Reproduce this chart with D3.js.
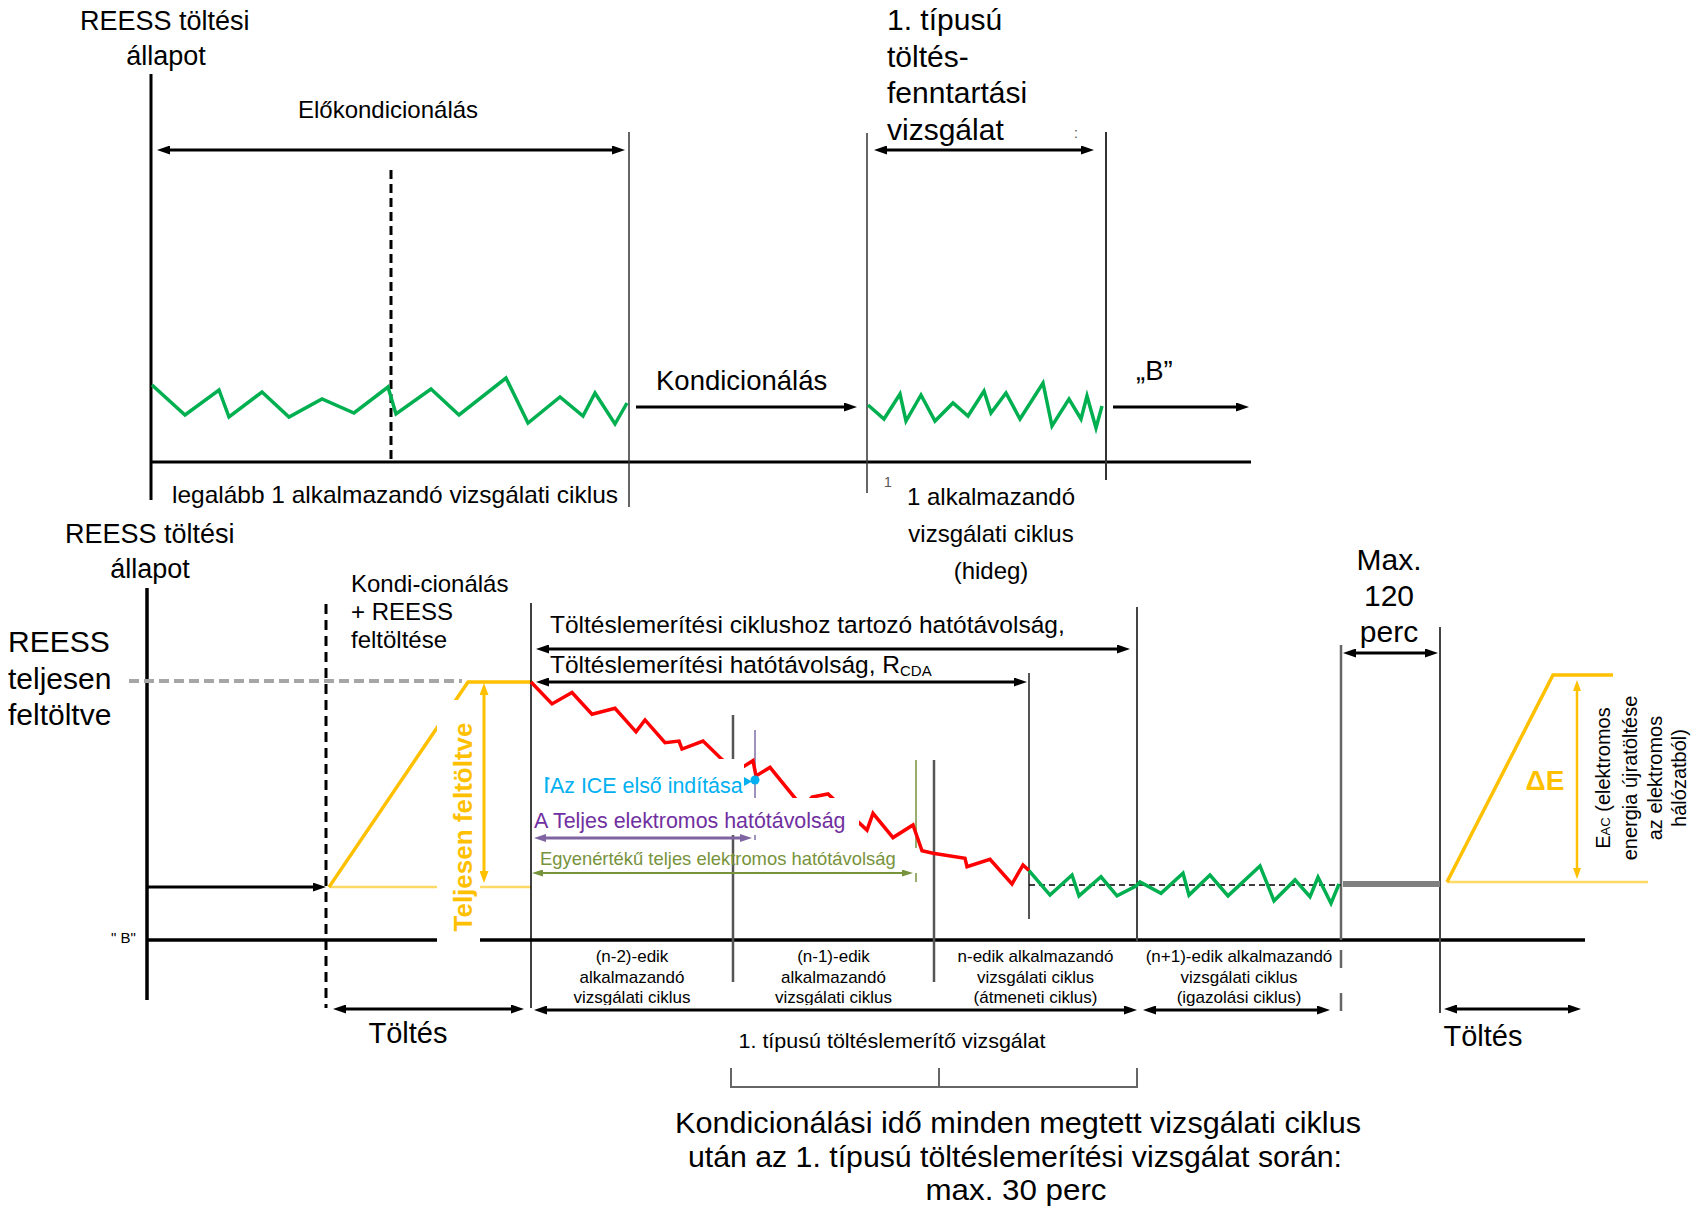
<!DOCTYPE html>
<html><head><meta charset="utf-8">
<script src="https://cdn.jsdelivr.net/npm/d3@7"></script>
<style>
html,body{margin:0;padding:0;background:#fff;}
svg{display:block;}
text{font-family:"Liberation Sans",Arial,Helvetica,sans-serif;fill:#000;}
</style>
</head><body>
<svg id="c" width="1700" height="1214"></svg>
<script>
// ---------------- DATA ----------------
// Top panel: time units (0..110), SOC units (0..100)
const topGreenPre = [[0.2,77],[3.5,47],[6.9,72],[7.9,45],[11.2,70],[13.9,45],[17.2,63],[20.4,49],[23.8,75],[24.6,48],[28.1,73],[30.9,47],[35.6,84],[37.8,39],[41.0,65],[43.3,46],[44.5,69],[46.5,38],[47.7,59]];
const topGreenType1 = [[71.8,57],[73.4,43],[75.0,68],[75.6,41],[77.1,67],[78.5,41],[80.3,59],[81.8,46],[83.4,71],[84.1,49],[85.6,69],[87.0,43],[89.3,79],[90.2,36],[91.9,63],[93.1,43],[93.7,66],[94.6,34],[95.2,56]];
const topEvents = [24.1, 47.9, 71.7, 95.6]; // mid-precon, end precon, start type1, end type1

// Bottom panel: time units (0..144), SOC % (0 = axis "B", 100 = fully charged)
const chargeLeft = [[18.2,20.5],[32.1,100],[38.5,100]];
const redCD = [[38.4,100],[40.5,91.5],[42.5,95.9],[44.5,87.5],[46.8,89.8],[48.9,80.7],[49.8,85.3],[51.8,76.5],[53.2,77.1],[53.5,74.0],[55.6,77.1],[57.5,70.0],[59.1,65.9],[60.6,69.5],[60.9,63.6],[62.3,66.9],[65.6,51.2],[66.5,55.4],[68.1,56.6],[72.0,42.6],[72.6,49.1],[74.6,39.7],[76.6,44.6],[77.5,34.6],[78.6,33.6],[81.8,31.7],[82.0,28.4],[84.3,31.3],[86.5,21.7],[87.6,29.1],[88.2,26.9]];
const greenCS = [[88.2,26.9],[90.3,17.4],[92.5,25.2],[93.2,17.1],[95.4,24.5],[97.0,17.1],[98.9,20.9],[99.3,22.5],[101.4,18.1],[103.6,25.9],[104.2,17.4],[106.3,25.2],[108.1,17.1],[111.3,28.7],[112.7,15.2],[114.8,23.3],[116.3,16.8],[117.1,24.3],[118.4,14.2],[119.2,21.7]];
const chargeRight = [[130.0,22.5],[140.6,102.7],[146.6,102.7]];
const cycleBounds = [38.4, 58.6, 78.7, 99.0, 119.4]; // cycle boundaries
const chargeStartT = 17.9, rcdaEndT = 88.2, iceT = 60.8, earT = 76.9, chargeEndT = 129.3;
const csLevel = 21.3, soakLevel = 21.7, startLevel = 20.5, rightStartLevel = 22.5, fullLevel = 100;
const cycleLabels = [
  ["(n-2)-edik","alkalmazandó","vizsgálati ciklus"],
  ["(n-1)-edik","alkalmazandó","vizsgálati ciklus"],
  ["n-edik alkalmazandó","vizsgálati ciklus","(átmeneti ciklus)"],
  ["(n+1)-edik alkalmazandó","vizsgálati ciklus","(igazolási ciklus)"]
];
const eacLines = ["energia újratöltése","az elektromos","hálózatból)"];

// ---------------- SCALES ----------------
const xT = d3.scaleLinear().domain([0,110]).range([150,1250]);
const yT = d3.scaleLinear().domain([0,100]).range([462,362]);
const xB = d3.scaleLinear().domain([0,144]).range([147,1587]);
const yB = d3.scaleLinear().domain([0,100]).range([940,682]);

const svg = d3.select("#c");
const defs = svg.append("defs");
const mk = {};
function marker(color,len,wid){
  const id = "m"+color.replace("#","")+"_"+len+"_"+wid;
  if(!mk[id]){
    defs.append("marker").attr("id",id).attr("markerUnits","userSpaceOnUse")
      .attr("markerWidth",len).attr("markerHeight",wid).attr("refX",2).attr("refY",wid/2)
      .attr("orient","auto-start-reverse").attr("viewBox",`0 0 ${len} ${wid}`)
      .append("path").attr("d",`M0,0L${len},${wid/2}L0,${wid}Z`).attr("fill",color);
    mk[id]=1;
  }
  return `url(#${id})`;
}
function arrow(x1,y1,x2,y2,o={}){
  const color=o.color||"#000", len=o.len||13, wid=o.wid||9, w=o.w||3;
  const dx=x2-x1, dy=y2-y1, L=Math.hypot(dx,dy), ux=dx/L, uy=dy/L;
  const s=len-2;
  const ax = o.both? x1+ux*s : x1, ay = o.both? y1+uy*s : y1;
  const l = svg.append("line").attr("x1",ax).attr("y1",ay).attr("x2",x2-ux*s).attr("y2",y2-uy*s)
    .attr("stroke",color).attr("stroke-width",w);
  const m = marker(color,len,wid);
  l.attr("marker-end",m); if(o.both) l.attr("marker-start",m);
}
function line(x1,y1,x2,y2,color,w,dash){
  const l=svg.append("line").attr("x1",x1).attr("y1",y1).attr("x2",x2).attr("y2",y2)
    .attr("stroke",color).attr("stroke-width",w);
  if(dash) l.attr("stroke-dasharray",dash);
  return l;
}
function txt(x,y,s,size,o={}){
  const t=svg.append("text").attr("x",x).attr("y",y).attr("font-size",size)
    .attr("text-anchor",o.anchor||"start").text(s);
  if(o.color) t.style("fill",o.color);
  if(o.bold) t.attr("font-weight","bold");
  if(o.tl) t.attr("textLength",o.tl).attr("lengthAdjust","spacingAndGlyphs");
  return t;
}
const lineT = d3.line().x(d=>xT(d[0])).y(d=>yT(d[1]));
const lineB = d3.line().x(d=>xB(d[0])).y(d=>yB(d[1]));

const GREEN="#00B050", RED="#FF0000", GOLD="#FFC000", LGOLD="#FFD966";

// ================= TOP PANEL =================
line(xT(0)+1,74,xT(0)+1,500,"#000",3);
line(xT(0),462,1251,462,"#000",3);
arrow(157,150,625,150,{both:true});
line(xT(topEvents[1]),132,xT(topEvents[1]),507,"#333",1.5);
line(xT(topEvents[0]),170,xT(topEvents[0]),462,"#000",3,"9,5");
line(xT(topEvents[2]),133,xT(topEvents[2]),493,"#333",1.5);
line(xT(topEvents[3]),132,xT(topEvents[3]),480,"#333",2);
arrow(874,150,1094,150,{both:true});
arrow(636,407,857,407,{});
arrow(1113,407,1249,407,{});
svg.append("path").attr("d",lineT(topGreenPre)).attr("fill","none").attr("stroke",GREEN).attr("stroke-width",3.5).attr("stroke-linejoin","miter");
svg.append("path").attr("d",lineT(topGreenType1)).attr("fill","none").attr("stroke",GREEN).attr("stroke-width",3.5);

txt(80,30,"REESS töltési",27);
txt(166,65,"állapot",27,{anchor:"middle"});
txt(388,118,"Előkondicionálás",24,{anchor:"middle"});
["1. típusú","töltés-","fenntartási","vizsgálat"].forEach((s,i)=>txt(887,30+i*36.7,s,30));
txt(1074,138,":",14,{color:"#555"});
txt(656,390,"Kondicionálás",27.5);
txt(1136,380,"„B”",27.5);
txt(172,503,"legalább 1 alkalmazandó vizsgálati ciklus",24,{tl:446});
txt(884,487,"1",14,{color:"#555"});
txt(991,505,"1 alkalmazandó",24,{anchor:"middle"});
txt(991,542,"vizsgálati ciklus",24,{anchor:"middle"});
txt(991,579,"(hideg)",24,{anchor:"middle"});

// ================= BOTTOM PANEL =================
// axes
line(147,588,147,1000,"#000",3.5);
line(147,yB(0),1585,yB(0),"#000",3.5);
// grey dashed "fully charged"
line(129,yB(fullLevel)-1,462,yB(fullLevel)-1,"#A6A6A6",4,"10,5");
// arrow to charge start
arrow(147,yB(startLevel),xB(chargeStartT),yB(startLevel),{});
line(xB(chargeStartT),604,xB(chargeStartT),1008,"#000",3,"10,6");
// charge ramp left
line(xB(chargeLeft[0][0]),yB(startLevel),xB(cycleBounds[0]),yB(startLevel),LGOLD,2.5);
svg.append("path").attr("d",lineB(chargeLeft)).attr("fill","none").attr("stroke",GOLD).attr("stroke-width",3.5);
arrow(484,683,484,883,{both:true,color:GOLD,w:3,len:12,wid:9});

// vertical markers
line(xB(cycleBounds[0]),603,xB(cycleBounds[0]),1008,"#000",1.5);
line(xB(cycleBounds[1]),715,xB(cycleBounds[1]),982,"#555",2.5);
line(xB(cycleBounds[2]),760,xB(cycleBounds[2]),982,"#555",2.5);
line(xB(rcdaEndT),673,xB(rcdaEndT),919,"#555",2);
line(xB(cycleBounds[3]),607,xB(cycleBounds[3]),942,"#444",2);
line(xB(cycleBounds[4]),645,xB(cycleBounds[4]),940,"#666",2.5);
line(xB(cycleBounds[4]),950,xB(cycleBounds[4]),1012,"#666",2.5,"18,25");
line(xB(chargeEndT),627,xB(chargeEndT),1013,"#444",2);
line(xB(earT),760,xB(earT),848,"#77933C",1.5);
line(xB(earT),873,xB(earT),882,"#77933C",1.5);
line(xB(iceT),730,xB(iceT),840,"#7F6FA6",1.5);

// range arrows
arrow(536,649,1130,649,{both:true});
arrow(536,682,1027,682,{both:true});

// red CD line and green CS line
svg.append("path").attr("d",lineB(redCD)).attr("fill","none").attr("stroke",RED).attr("stroke-width",3.5);
line(xB(rcdaEndT),yB(csLevel),xB(cycleBounds[4]),yB(csLevel),"#000",1.5,"6,4");
svg.append("path").attr("d",lineB(greenCS)).attr("fill","none").attr("stroke",GREEN).attr("stroke-width",3.5);
line(xB(cycleBounds[4])+2,yB(soakLevel),xB(chargeEndT),yB(soakLevel),"#808080",6);

// white label boxes
svg.append("rect").attr("x",541).attr("y",759).attr("width",203).attr("height",40).attr("fill","#fff");
svg.append("rect").attr("x",534).attr("y",798).attr("width",325).attr("height",37).attr("fill","#fff");

// ICE / AER annotations
svg.append("path").attr("d","M546.5,777V793M546.5,778.5H549.5").attr("fill","none").attr("stroke","#00B0F0").attr("stroke-width",2.2);
txt(550,793,"Az ICE első indítása",21.4,{color:"#00B0F0"});
svg.append("path").attr("d","M744,777L752,781.5L744,786Z").attr("fill","#00B0F0");
svg.append("circle").attr("cx",xB(iceT)).attr("cy",780).attr("r",4.5).attr("fill","#00B0F0");
txt(534,828,"A",21.5,{color:"#7030A0"});
txt(553,828,"Teljes elektromos hatótávolság",21.4,{color:"#7030A0"});
arrow(534,838,752,838,{both:true,color:"#8064A2",w:3,len:12,wid:8});
txt(540,865,"Egyenértékű teljes elektromos hatótávolság",18.4,{color:"#77933C"});
arrow(532,873,913,873,{both:true,color:"#77933C",w:2,len:11,wid:7});

// right charge
line(xB(chargeRight[0][0]),yB(rightStartLevel),1648,yB(rightStartLevel),LGOLD,2.5);
svg.append("path").attr("d",lineB(chargeRight)).attr("fill","none").attr("stroke",GOLD).attr("stroke-width",3.5);
arrow(1577,680,1577,879,{both:true,color:GOLD,w:2.5,len:11,wid:8});
arrow(1343,653,1438,653,{both:true});

// white box behind rotated label
svg.append("rect").attr("x",437).attr("y",700).attr("width",43).attr("height",252).attr("fill","#fff");
svg.append("text").attr("transform","translate(472,827) rotate(-90)").attr("text-anchor","middle")
  .attr("font-size",26).attr("font-weight","bold").style("fill",GOLD).text("Teljesen feltöltve");

// texts bottom panel
txt(65,543,"REESS töltési",27);
txt(150,578,"állapot",27,{anchor:"middle"});
["REESS","teljesen","feltöltve"].forEach((s,i)=>txt(8,652+i*36.5,s,30));
["Kondi-cionálás","+ REESS","feltöltése"].forEach((s,i)=>txt(351,592+i*28,s,24));
txt(111,943,"\" B\"",15);
txt(550,633,"Töltéslemerítési ciklushoz tartozó hatótávolság,",24.5);
const rc = txt(550,673,"Töltéslemerítési hatótávolság, R",24.5);
rc.append("tspan").attr("font-size",15).attr("dy",3).text("CDA");

cycleLabels.forEach((lab,i)=>{
  const cx = (xB(cycleBounds[i])+xB(cycleBounds[i+1]))/2;
  lab.forEach((s,j)=>txt(cx,962+j*20.5,s,17,{anchor:"middle"}));
});
svg.append("rect").attr("x",536).attr("y",1005).attr("width",395).attr("height",4).attr("fill","#fff");

["Max.","120","perc"].forEach((s,i)=>txt(1389,570+i*36,s,30,{anchor:"middle"}));
txt(1545,790,"ΔE",28,{anchor:"middle",bold:true,color:GOLD});
const e1 = svg.append("text").attr("transform","translate(1610,778) rotate(-90)").attr("text-anchor","middle").attr("font-size",20);
e1.append("tspan").text("E");
e1.append("tspan").attr("font-size",13).text("AC");
e1.append("tspan").text(" (elektromos");
eacLines.forEach((s,i)=>{
  svg.append("text").attr("transform",`translate(${1637+i*24.5},778) rotate(-90)`).attr("text-anchor","middle").attr("font-size",20).text(s);
});

// bottom arrows
arrow(333,1009,524,1009,{both:true});
arrow(534,1010,1137,1010,{both:true});
arrow(1143,1010,1330,1010,{both:true});
arrow(1444,1009,1581,1009,{both:true});
txt(408,1043,"Töltés",29,{anchor:"middle"});
txt(1483,1046,"Töltés",29,{anchor:"middle"});
txt(892,1048,"1. típusú töltéslemerítő vizsgálat",21,{anchor:"middle",tl:307});
svg.append("path").attr("d",`M${xB(cycleBounds[1])-2},1068V1087H${xB(cycleBounds[3])}V1068M939,1068V1087`)
  .attr("fill","none").attr("stroke","#666").attr("stroke-width",2);
txt(1018,1133,"Kondicionálási idő minden megtett vizsgálati ciklus",29,{anchor:"middle",tl:686});
txt(1015,1167,"után az 1. típusú töltéslemerítési vizsgálat során:",29,{anchor:"middle",tl:654});
txt(1016,1200,"max. 30 perc",29,{anchor:"middle",tl:181});
</script>
</body></html>
